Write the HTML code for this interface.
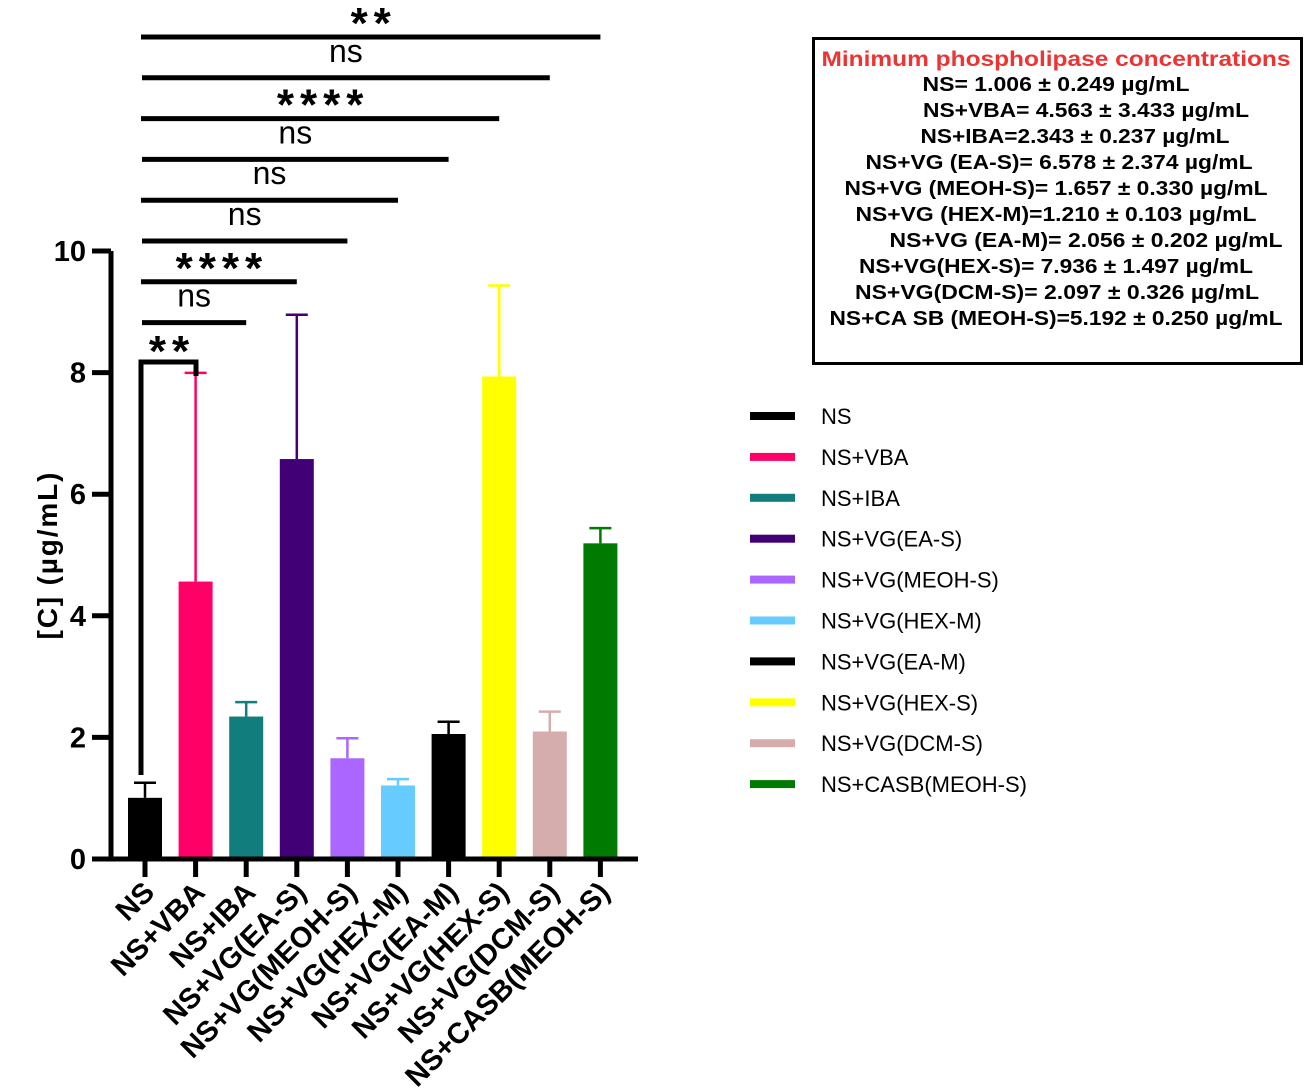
<!DOCTYPE html>
<html><head><meta charset="utf-8"><style>body{margin:0;background:#fff}svg{display:block;font-family:"Liberation Sans",sans-serif}</style></head>
<body>
<svg id="c" width="1306" height="1091"></svg>
<script>
const categories=["NS","NS+VBA","NS+IBA","NS+VG(EA-S)","NS+VG(MEOH-S)","NS+VG(HEX-M)","NS+VG(EA-M)","NS+VG(HEX-S)","NS+VG(DCM-S)","NS+CASB(MEOH-S)"];
const means=[1.006,4.563,2.343,6.578,1.657,1.210,2.056,7.936,2.097,5.192];
const sds=[0.249,3.433,0.237,2.374,0.330,0.103,0.202,1.497,0.326,0.250];
const colors=["#000000","#ff0066","#117d7d","#420077","#aa66ff","#66ccff","#000000","#ffff00","#d6adad","#007a00"];
const yTicks=[0,2,4,6,8,10];
const sigFrom=[0,0,0,0,0,0,0,0];
const sigTo=[9,8,7,6,5,4,3,2];
const sigLabels=["**","ns","****","ns","ns","ns","****","ns"];
const boxLines=["NS= 1.006 ± 0.249 µg/mL","NS+VBA= 4.563 ± 3.433 µg/mL","NS+IBA=2.343 ± 0.237 µg/mL","NS+VG (EA-S)= 6.578 ± 2.374 µg/mL","NS+VG (MEOH-S)= 1.657 ± 0.330 µg/mL","NS+VG (HEX-M)=1.210 ± 0.103 µg/mL","NS+VG (EA-M)= 2.056 ± 0.202 µg/mL","NS+VG(HEX-S)= 7.936 ± 1.497 µg/mL","NS+VG(DCM-S)= 2.097 ± 0.326 µg/mL","NS+CA SB (MEOH-S)=5.192 ± 0.250 µg/mL"];
const boxX=[1056,1086,1075,1059,1056,1056,1086,1056,1057,1056];
const boxW=[267,326,309,387,423,401,393,394,404,453];

const svg=document.getElementById('c');const NS='http://www.w3.org/2000/svg';
function el(t,a,txt){const e=document.createElementNS(NS,t);for(const k in a)e.setAttribute(k,a[k]);if(txt!==undefined)e.textContent=txt;svg.appendChild(e);return e;}
const y=v=>859-v*60.8;
const x=i=>145+i*50.6;
categories.forEach((c,i)=>{
 const cx=x(i);
 const r=el('rect',{x:cx-17,y:y(means[i]),width:34,height:y(0)-y(means[i]),fill:colors[i]});
 
 
 const e=el('path',{d:`M${cx},${y(means[i])}V${y(means[i]+sds[i])}M${cx-11},${y(means[i]+sds[i])}H${cx+11}`,stroke:colors[i],'stroke-width':2.5,fill:'none'});
 
 
 const t=el('line',{x1:cx,y1:859,x2:cx,y2:877,stroke:'#000','stroke-width':5});
 
 
 const tx=cx+11, ty=894;
 const l=el('text',{x:tx,y:ty,'font-size':29,'font-weight':'bold','text-anchor':'end',transform:`rotate(-45 ${tx} ${ty})`},c);
 
 
});
const ax=el('path',{d:'M111,251V861M93,859H638',stroke:'#000','stroke-width':5,fill:'none'});


yTicks.forEach(v=>{
 const t=el('line',{x1:92,y1:y(v),x2:111,y2:y(v),stroke:'#000','stroke-width':5});
 
 
 const l=el('text',{x:86,y:y(v)+10,'font-size':29,'font-weight':'bold','text-anchor':'end'},v);
 
 
});
const yt=el('text',{x:57,y:556,'font-size':28,'font-weight':'bold','text-anchor':'middle',textLength:167,transform:'rotate(-90 57 556)'},'[C] (µg/mL)');


const br=el('path',{d:`M141,775V362H196V376`,stroke:'#000','stroke-width':5,fill:'none'});


const bl=el('text',{x:172,y:366,'font-size':44,'font-weight':'bold','text-anchor':'middle','letter-spacing':6},'**');


sigTo.forEach((j,k)=>{
 const ly=37+k*40.8;
 const x1=x(sigFrom[k])-4+k%2, x2=x(j);
 const ln=el('line',{x1:x1,y1:ly,x2:x2,y2:ly,stroke:'#000','stroke-width':5});
 
 
 const star=sigLabels[k]!='ns';
 const t=el('text',{x:(x1+x2)/2+(star?3:0),y:star?ly+1:ly-16,'font-size':star?44:32,'font-weight':star?'bold':'normal','text-anchor':'middle','letter-spacing':star?6:0},sigLabels[k]);
 
 
});
categories.forEach((c,i)=>{
 const ly=416+i*40.9;
 const s=el('rect',{x:750,y:ly-4,width:45,height:8,fill:colors[i]});
 
 
 const t=el('text',{x:821,y:ly+8,'font-size':22},c);
 
 
});
const bx=el('rect',{x:813.5,y:38.5,width:488,height:325,fill:'#fff',stroke:'#000','stroke-width':3});


const bt=el('text',{x:1056,y:66,'font-size':21,'font-weight':'bold',fill:'#ee3333','text-anchor':'middle',textLength:469,lengthAdjust:'spacingAndGlyphs'},'Minimum phospholipase concentrations');


boxLines.forEach((s,i)=>{
 const t=el('text',{x:boxX[i],y:91+i*26,'font-size':20,'font-weight':'bold','text-anchor':'middle',textLength:boxW[i],lengthAdjust:'spacingAndGlyphs'},s);
 
 
});
</script>
</body></html>
